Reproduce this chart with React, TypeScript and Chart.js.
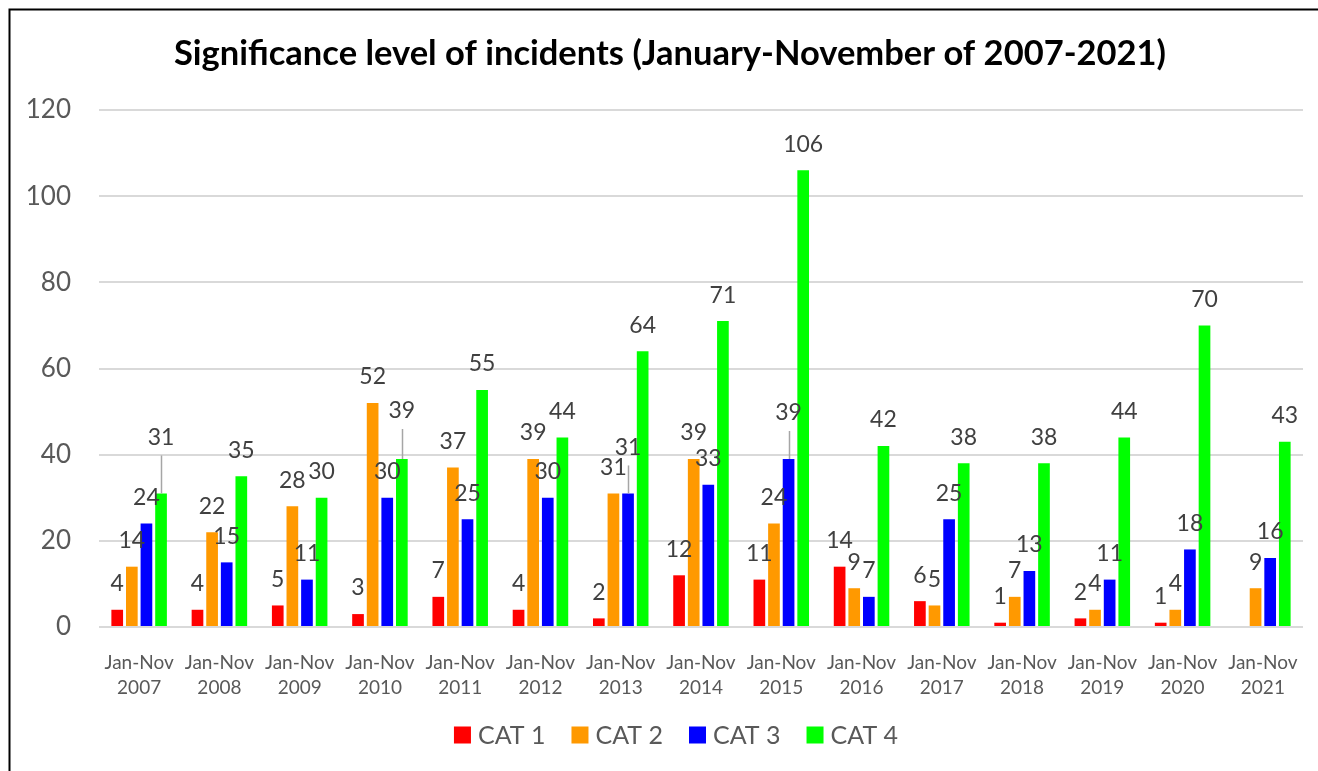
import React, { useEffect, useRef } from "react";
import { Chart, registerables } from "chart.js";

Chart.register(...registerables);

const categories: string[][] = [
  ["Jan-Nov", "2007"], ["Jan-Nov", "2008"], ["Jan-Nov", "2009"], ["Jan-Nov", "2010"],
  ["Jan-Nov", "2011"], ["Jan-Nov", "2012"], ["Jan-Nov", "2013"], ["Jan-Nov", "2014"],
  ["Jan-Nov", "2015"], ["Jan-Nov", "2016"], ["Jan-Nov", "2017"], ["Jan-Nov", "2018"],
  ["Jan-Nov", "2019"], ["Jan-Nov", "2020"], ["Jan-Nov", "2021"],
];
const seriesNames = ["CAT 1", "CAT 2", "CAT 3", "CAT 4"];
const cat1 = [4, 4, 5, 3, 7, 4, 2, 12, 11, 14, 6, 1, 2, 1, null];
const cat2 = [14, 22, 28, 52, 37, 39, 31, 39, 24, 9, 5, 7, 4, 4, 9];
const cat3 = [24, 15, 11, 30, 25, 30, 31, 33, 39, 7, 25, 13, 11, 18, 16];
const cat4 = [31, 35, 30, 39, 55, 44, 64, 71, 106, 42, 38, 38, 44, 70, 43];
const yMin = 0;
const yMax = 120;
const yStep = 20;
const seriesColors = ["#FF0000", "#FF9900", "#0000FF", "#00FF00"];
const titleText = "Significance level of incidents (January-November of 2007-2021)";

// data labels that were lifted and joined to their bar by a leader line:
// [dataset index, category index, lift in px]
const leaderLabels: number[][] = [
  [3, 0, 56],
  [3, 3, 48],
  [2, 6, 46],
  [2, 8, 46],
];

const FONT = "Lato, 'Open Sans', sans-serif";

const decorPlugin = {
  id: "decor",
  afterDatasetsDraw(chart: any) {
    const ctx = chart.ctx;
    ctx.save();
    ctx.font = `23px ${FONT}`;
    ctx.textAlign = "center";
    ctx.textBaseline = "middle";
    chart.data.datasets.forEach((ds: any, di: number) => {
      const meta = chart.getDatasetMeta(di);
      meta.data.forEach((el: any, i: number) => {
        const v = ds.data[i];
        if (v == null) return;
        const special = leaderLabels.find((l) => l[0] === di && l[1] === i);
        const lift = special ? special[2] : 26;
        const cy = el.y - lift;
        if (special) {
          ctx.strokeStyle = "#A6A6A6";
          ctx.lineWidth = 1.5;
          ctx.beginPath();
          ctx.moveTo(Math.round(el.x) + 0.5, cy + 18);
          ctx.lineTo(Math.round(el.x) + 0.5, el.y);
          ctx.stroke();
        }
        ctx.fillStyle = "#404040";
        ctx.fillText(String(v), el.x, cy);
      });
    });
    ctx.restore();
  },
  afterDraw(chart: any) {
    const ctx = chart.ctx;
    ctx.save();
    // title
    ctx.font = `bold 34.5px ${FONT}`;
    ctx.fillStyle = "#000000";
    ctx.textAlign = "center";
    ctx.textBaseline = "middle";
    ctx.fillText(titleText, 670, 54);
    // legend
    ctx.font = `25px ${FONT}`;
    const box = 17;
    const gapText = 7;
    const gapItem = 26;
    const widths = seriesNames.map((n) => ctx.measureText(n).width);
    const total = widths.reduce((a, w) => a + box + gapText + w, 0) + gapItem * (seriesNames.length - 1);
    let x = 676 - total / 2;
    const cy = 736;
    ctx.textAlign = "left";
    seriesNames.forEach((n, i) => {
      ctx.fillStyle = seriesColors[i];
      ctx.fillRect(x, cy - box / 2 - 1, box, box);
      ctx.fillStyle = "#595959";
      ctx.fillText(n, x + box + gapText, cy);
      x += box + gapText + widths[i] + gapItem;
    });
    // frame
    ctx.strokeStyle = "#000000";
    ctx.lineWidth = 2;
    ctx.beginPath();
    ctx.moveTo(9.5, chart.height + 5);
    ctx.lineTo(9.5, 9.5);
    ctx.lineTo(chart.width + 5, 9.5);
    ctx.stroke();
    ctx.restore();
  },
};

export default function App() {
  const ref = useRef<HTMLCanvasElement | null>(null);
  useEffect(() => {
    if (!ref.current) return;
    const series = [cat1, cat2, cat3, cat4];
    const chart = new Chart(ref.current, {
      type: "bar",
      data: {
        labels: categories,
        datasets: series.map((d, i) => ({
          label: seriesNames[i],
          data: d,
          backgroundColor: seriesColors[i],
          borderWidth: 0,
          categoryPercentage: 0.728,
          barPercentage: 0.8,
        })),
      },
      options: {
        responsive: false,
        animation: false,
        layout: { padding: { left: 0, right: 15, top: 110, bottom: 71 } },
        plugins: {
          legend: { display: false },
          title: { display: false },
          tooltip: { enabled: false },
        },
        scales: {
          x: {
            grid: { display: false },
            border: { display: false },
            ticks: {
              color: "#595959",
              font: { family: FONT, size: 19, lineHeight: "25px" },
              padding: 15,
              maxRotation: 0,
              autoSkip: false,
            },
            afterFit(scale: any) {
              scale.height = 73;
            },
          },
          y: {
            min: yMin,
            max: yMax,
            grid: { color: "#D9D9D9", lineWidth: 2, drawTicks: false },
            border: { display: false },
            ticks: {
              stepSize: yStep,
              color: "#595959",
              font: { family: FONT, size: 26 },
              padding: 28,
            },
            afterFit(scale: any) {
              scale.width = 99;
            },
          },
        },
      },
      plugins: [decorPlugin],
    });
    return () => chart.destroy();
  }, []);
  return (
    <div style={{ position: "absolute", left: 0, top: 0, width: 1318, height: 771, background: "#ffffff", overflow: "hidden" }}>
      <canvas ref={ref} width={1318} height={771} style={{ display: "block" }} />
    </div>
  );
}
